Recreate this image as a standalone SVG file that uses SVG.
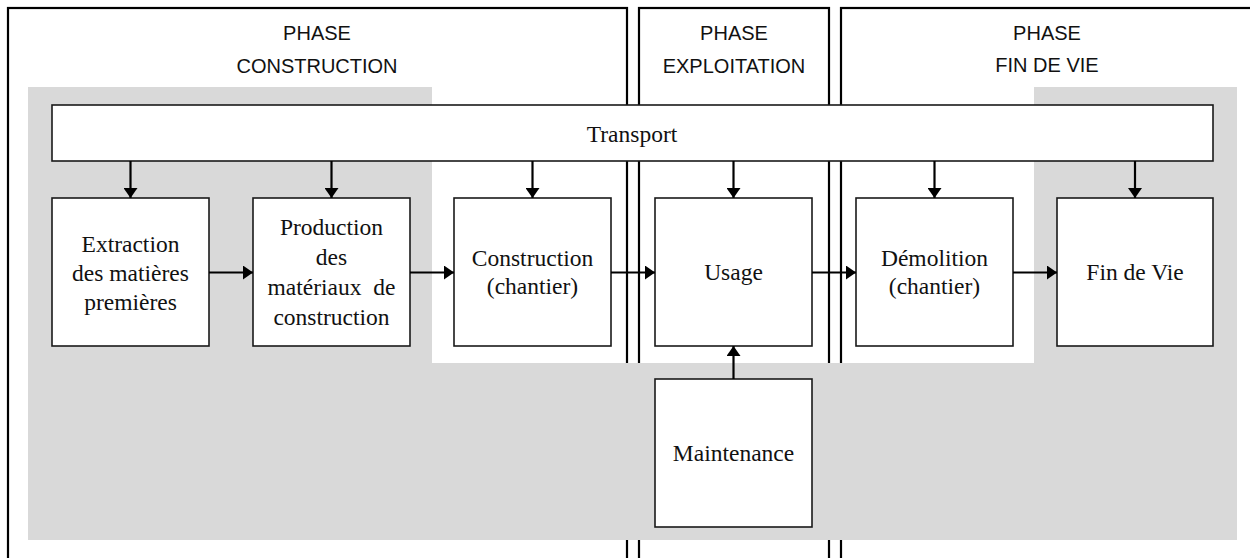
<svg xmlns="http://www.w3.org/2000/svg" width="1250" height="558" viewBox="0 0 1250 558">
<style>
.phase{fill:#fff;stroke:#000;stroke-width:2.2}
.ph{font-family:"Liberation Sans",Arial,sans-serif;font-size:20px;fill:#111;text-anchor:middle}
.box{fill:#fff;stroke:#1a1a1a;stroke-width:1.6}
.t{font-family:"Liberation Serif","Times New Roman",serif;font-size:23.5px;fill:#111;text-anchor:middle}
.c{stroke:#000;stroke-width:2.2;fill:none;marker-end:url(#ah)}
</style>
<defs>
<marker id="ah" viewBox="0 0 10 14" refX="10" refY="7" markerWidth="10" markerHeight="14" markerUnits="userSpaceOnUse" orient="auto">
<path d="M0,0 L10,7 L0,14 Z" fill="#000"/>
</marker>
</defs>
<rect width="1250" height="558" fill="#fff"/>
<g id="phase-construction">
<rect class="phase" x="8" y="8" width="619" height="570"/>
<text class="ph" x="317" y="40">PHASE</text>
<text class="ph" x="317" y="73">CONSTRUCTION</text>
</g>
<g id="phase-exploitation">
<rect class="phase" x="639" y="8" width="190" height="570"/>
<text class="ph" x="734" y="40">PHASE</text>
<text class="ph" x="734" y="73">EXPLOITATION</text>
</g>
<g id="phase-fin-de-vie">
<rect class="phase" x="841" y="8" width="420" height="570"/>
<text class="ph" x="1047" y="40">PHASE</text>
<text class="ph" x="1047" y="72">FIN DE VIE</text>
</g>
<path id="background" d="M28,87 H432 V363 H1034 V87 H1237 V540 H28 Z" fill="#d9d9d9"/>
<g id="transport">
<rect class="box" x="52" y="105" width="1161" height="56"/>
<text class="t" x="632" y="142">Transport</text>
</g>
<g id="extraction">
<rect class="box" x="52" y="198" width="157" height="148"/>
<text class="t" x="130.5" y="252">Extraction</text>
<text class="t" x="130.5" y="281">des matières</text>
<text class="t" x="130.5" y="310">premières</text>
</g>
<g id="production">
<rect class="box" x="253" y="198" width="157" height="148"/>
<text class="t" x="331.5" y="235">Production</text>
<text class="t" x="331.5" y="265">des</text>
<text class="t" x="331.5" y="295" word-spacing="6">matériaux de</text>
<text class="t" x="331.5" y="325">construction</text>
</g>
<g id="construction">
<rect class="box" x="454" y="198" width="157" height="148"/>
<text class="t" x="532.5" y="266">Construction</text>
<text class="t" x="532.5" y="294">(chantier)</text>
</g>
<g id="usage">
<rect class="box" x="655" y="198" width="157" height="148"/>
<text class="t" x="733.5" y="280">Usage</text>
</g>
<g id="demolition">
<rect class="box" x="856" y="198" width="157" height="148"/>
<text class="t" x="934.5" y="266">Démolition</text>
<text class="t" x="934.5" y="294">(chantier)</text>
</g>
<g id="fin-de-vie">
<rect class="box" x="1057" y="198" width="156" height="148"/>
<text class="t" x="1135" y="280">Fin de Vie</text>
</g>
<g id="maintenance">
<rect class="box" x="655" y="379" width="157" height="148"/>
<text class="t" x="733.5" y="461">Maintenance</text>
</g>
<g id="connectors">
<line class="c" x1="130.5" y1="161" x2="130.5" y2="198"/>
<line class="c" x1="331.5" y1="161" x2="331.5" y2="198"/>
<line class="c" x1="532.5" y1="161" x2="532.5" y2="198"/>
<line class="c" x1="733.5" y1="161" x2="733.5" y2="198"/>
<line class="c" x1="934.5" y1="161" x2="934.5" y2="198"/>
<line class="c" x1="1135" y1="161" x2="1135" y2="198"/>
<line class="c" x1="209" y1="272.5" x2="253" y2="272.5"/>
<line class="c" x1="410" y1="272.5" x2="454" y2="272.5"/>
<line class="c" x1="611" y1="272.5" x2="655" y2="272.5"/>
<line class="c" x1="812" y1="272.5" x2="856" y2="272.5"/>
<line class="c" x1="1013" y1="272.5" x2="1057" y2="272.5"/>
<line class="c" x1="733.5" y1="379" x2="733.5" y2="346"/>
</g>
</svg>
